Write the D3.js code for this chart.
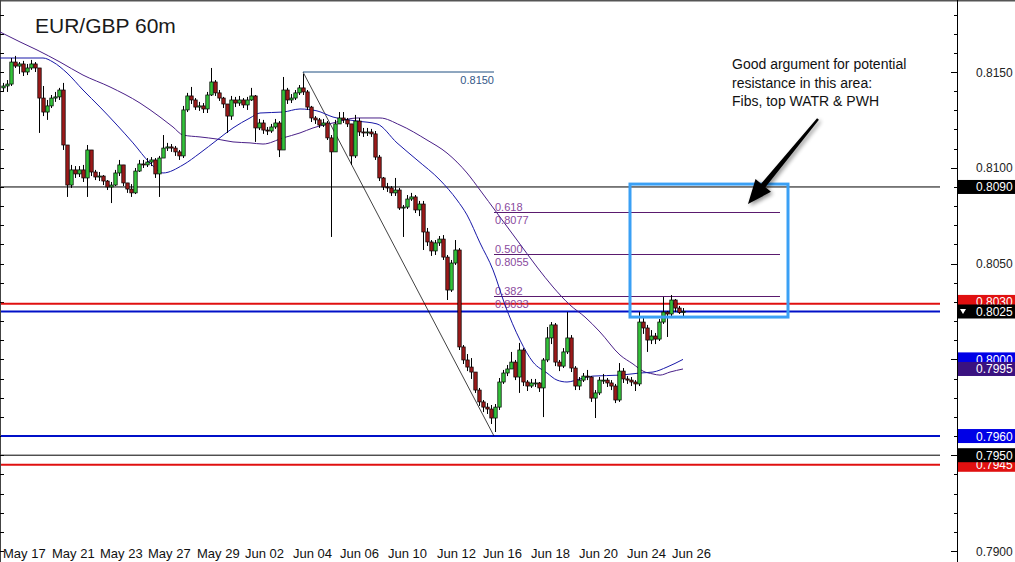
<!DOCTYPE html>
<html><head><meta charset="utf-8">
<script src="https://cdn.jsdelivr.net/npm/d3@7"></script>
<style>
body{margin:0;background:#fff;}
svg{display:block;}
text{font-family:"Liberation Sans",Arial,Helvetica,sans-serif;}
</style>
</head><body>
<svg id="c" width="1015" height="562"></svg>
<script>
// ---------- DATA ----------
const title = "EUR/GBP 60m";
const firstOpen = 0.81417;
// 4-hour grouped candles (index i centred at hour 4*i)
const closes = [0.81427,0.81437,0.81552,0.81531,0.81542,0.81500,0.81521,0.81542,0.81521,0.81364,
0.81291,0.81323,0.81364,0.81370,0.81406,0.81119,0.80910,0.80989,0.80968,0.80989,
0.80947,0.81093,0.80978,0.80952,0.80957,0.80931,0.80900,0.80910,0.80973,0.81015,
0.80921,0.80889,0.80869,0.80983,0.81020,0.81015,0.81030,0.81041,0.80968,0.81051,
0.81103,0.81109,0.81103,0.81083,0.81062,0.81302,0.81375,0.81354,0.81317,0.81323,
0.81307,0.81380,0.81448,0.81391,0.81364,0.81333,0.81270,0.81354,0.81338,0.81354,
0.81328,0.81354,0.81375,0.81208,0.81234,0.81197,0.81192,0.81213,0.81234,0.81093,
0.81406,0.81354,0.81364,0.81391,0.81417,0.81396,0.81317,0.81260,0.81250,0.81223,
0.81234,0.81156,0.81083,0.81229,0.81260,0.81250,0.81229,0.81062,0.81244,0.81187,
0.81182,0.81187,0.81177,0.81056,0.80947,0.80900,0.80895,0.80869,0.80884,0.80790,
0.80795,0.80837,0.80848,0.80780,0.80811,0.80665,0.80613,0.80566,0.80608,0.80628,
0.80534,0.80362,0.80503,0.80571,0.80065,0.79997,0.79960,0.79934,0.79840,0.79778,
0.79751,0.79741,0.79694,0.79751,0.79882,0.79929,0.79950,0.79986,0.79908,0.80049,
0.79882,0.79861,0.79877,0.79877,0.79851,0.79997,0.80112,0.80180,0.79986,0.79965,
0.80039,0.80112,0.79955,0.79861,0.79892,0.79913,0.79908,0.79798,0.79825,0.79892,
0.79892,0.79877,0.79861,0.79788,0.79939,0.79898,0.79892,0.79882,0.79872,0.80195,
0.80164,0.80101,0.80122,0.80106,0.80195,0.80247,0.80237,0.80310,0.80268,0.80245,
0.80250];
const highs = [0.81443,0.81458,0.81573,0.81584,0.81552,0.81558,0.81542,0.81563,0.81552,0.81521,
0.81427,0.81354,0.81380,0.81396,0.81417,0.81443,0.81119,0.81015,0.81009,0.81009,
0.81015,0.81119,0.81093,0.80989,0.80978,0.80962,0.80936,0.80926,0.80989,0.81041,
0.81015,0.80921,0.80915,0.80999,0.81041,0.81041,0.81051,0.81056,0.81051,0.81062,
0.81171,0.81130,0.81124,0.81114,0.81093,0.81323,0.81391,0.81422,0.81364,0.81344,
0.81338,0.81396,0.81521,0.81458,0.81406,0.81370,0.81333,0.81375,0.81370,0.81375,
0.81364,0.81370,0.81417,0.81380,0.81255,0.81250,0.81213,0.81229,0.81255,0.81244,
0.81474,0.81417,0.81385,0.81406,0.81432,0.81490,0.81406,0.81323,0.81270,0.81260,
0.81255,0.81244,0.81171,0.81250,0.81291,0.81291,0.81260,0.81218,0.81276,0.81260,
0.81208,0.81208,0.81203,0.81192,0.81067,0.80952,0.80921,0.80905,0.80947,0.80895,
0.80806,0.80858,0.80869,0.80858,0.80827,0.80827,0.80686,0.80623,0.80623,0.80644,
0.80649,0.80545,0.80519,0.80623,0.80581,0.80075,0.80028,0.80007,0.79924,0.79851,
0.79788,0.79772,0.79762,0.79767,0.79903,0.79945,0.79971,0.80039,0.79997,0.80086,
0.80059,0.79892,0.79898,0.79898,0.79882,0.80007,0.80169,0.80195,0.80190,0.79997,
0.80059,0.80247,0.80127,0.79965,0.79908,0.79929,0.79945,0.79913,0.79840,0.79908,
0.79924,0.79903,0.79892,0.79872,0.79981,0.79955,0.79913,0.79908,0.79892,0.80247,
0.80216,0.80180,0.80153,0.80138,0.80211,0.80326,0.80253,0.80336,0.80315,0.80279,
0.80268];
const lows = [0.81396,0.81396,0.81427,0.81521,0.81490,0.81479,0.81484,0.81511,0.81500,0.81182,
0.81270,0.81250,0.81312,0.81344,0.81354,0.81093,0.80848,0.80895,0.80947,0.80952,
0.80926,0.80848,0.80957,0.80936,0.80931,0.80910,0.80884,0.80816,0.80905,0.80957,
0.80905,0.80869,0.80848,0.80863,0.80978,0.80999,0.81004,0.81009,0.80947,0.80848,
0.81051,0.81088,0.81083,0.81062,0.81041,0.81051,0.81291,0.81333,0.81302,0.81297,
0.81286,0.81286,0.81375,0.81375,0.81349,0.81312,0.81182,0.81250,0.81317,0.81323,
0.81312,0.81302,0.81349,0.81135,0.81197,0.81177,0.81171,0.81182,0.81203,0.81056,
0.81093,0.81333,0.81338,0.81354,0.81380,0.81380,0.81302,0.81239,0.81229,0.81208,
0.81213,0.81145,0.80639,0.81083,0.81229,0.81234,0.81213,0.81015,0.81051,0.81166,
0.81161,0.81166,0.81161,0.81041,0.80931,0.80884,0.80874,0.80853,0.80853,0.80780,
0.80639,0.80785,0.80827,0.80764,0.80748,0.80571,0.80592,0.80540,0.80545,0.80592,
0.80519,0.80310,0.80352,0.80493,0.80049,0.79976,0.79939,0.79898,0.79825,0.79757,
0.79725,0.79715,0.79663,0.79621,0.79736,0.79872,0.79913,0.79955,0.79892,0.79825,
0.79861,0.79835,0.79851,0.79856,0.79830,0.79699,0.79986,0.80080,0.79965,0.79939,
0.79955,0.80028,0.79934,0.79840,0.79840,0.79882,0.79892,0.79778,0.79694,0.79814,
0.79872,0.79856,0.79840,0.79772,0.79778,0.79877,0.79872,0.79861,0.79835,0.79861,
0.80133,0.80039,0.80080,0.80080,0.80096,0.80185,0.80117,0.80226,0.80247,0.80237,
0.80226];

// moving averages: [hour, price]
const fastMA = [[-3,0.81573],[17,0.81573],[40,0.81573],[50,0.81552],[64,0.81495],[80,0.81406],
[97,0.81317],[114,0.81223],[130,0.81130],[147,0.81025],[160,0.80973],[180,0.81015],[197,0.81077],
[214,0.81145],[230,0.81208],[247,0.81260],[257,0.81286],[280,0.81291],[297,0.81307],[314,0.81297],
[330,0.81265],[354,0.81244],[374,0.81229],[394,0.81130],[414,0.81041],[437,0.80936],[454,0.80832],
[464,0.80754],[477,0.80608],[490,0.80467],[502,0.80284],[517,0.80101],[530,0.79986],[544,0.79929],
[554,0.79892],[564,0.79882],[577,0.79898],[590,0.79913],[617,0.79918],[637,0.79929],[650,0.79934],
[664,0.79960],[680,0.80000]];
const slowMA = [[-3,0.81709],[17,0.81657],[34,0.81615],[57,0.81552],[80,0.81484],[107,0.81422],
[137,0.81338],[157,0.81265],[170,0.81213],[180,0.81171],[197,0.81161],[214,0.81150],[230,0.81135],
[247,0.81130],[260,0.81124],[280,0.81156],[297,0.81182],[310,0.81208],[330,0.81234],[354,0.81260],
[377,0.81260],[397,0.81223],[424,0.81145],[444,0.81077],[464,0.80973],[477,0.80884],[494,0.80764],
[514,0.80623],[534,0.80482],[550,0.80378],[567,0.80284],[582,0.80221],[597,0.80143],[617,0.80023],
[630,0.79976],[640,0.79939],[650,0.79924],[657,0.79918],[667,0.79934],[680,0.79950]];

const xTickLabels = ["May 17","May 21","May 23","May 27","May 29","Jun 02","Jun 04","Jun 06","Jun 10","Jun 12","Jun 16","Jun 18","Jun 20","Jun 24","Jun 26"];
const xTickHours = [0,49,97,145,194,242,290,337,385,434,480,528,576,624,669];
const yTickLabels = [0.8150,0.8100,0.8050,0.8000,0.7950,0.7900];

const fibRatios = ["0.618","0.500","0.382"];
const fibPrices = [0.8077,0.8055,0.8033];
const fibHigh = 0.8150, fibLow = 0.7960;
const fibStartHour = 300, fibEndHour = 491, fibLineEndHour = 777;

const levelValues = [0.8090, 0.8029, 0.8025, 0.7960, 0.7950, 0.7945];
const levelColors = ["#000000","#e01010","#0010c8","#0010c8","#000000","#e01010"];
const levelWidths = [1, 2, 2, 2, 1, 2];

// right-axis price tags (drawn in this order)
const tagValues = [0.8090, 0.8030, 0.8025, 0.8000, 0.7995, 0.7960, 0.7945, 0.7950];
const tagTexts  = ["0.8090","0.8030","0.8025","0.8000","0.7995","0.7960","0.7945","0.7950"];
const tagColors = ["#000000","#e01010","#000000","#0000e6","#3a1280","#0000e6","#e01010","#000000"];

const boxHours = [627, 785];
const boxPrices = [0.80915, 0.80221];
const noteLines = ["Good argument for potential","resistance in this area:","Fibs, top WATR & PWH"];

// ---------- CHART ----------
const svg = d3.select("#c");
const x = d3.scaleLinear().domain([0, 680]).range([3, 683]);
const y = d3.scaleLinear().domain([0.7900, 0.8150]).range([551, 72]);
const axisX = 957, lineEnd = 940;

const defs = svg.append("defs");
const f = defs.append("filter").attr("id","sh").attr("x","-50%").attr("y","-50%").attr("width","200%").attr("height","200%");
f.append("feGaussianBlur").attr("in","SourceAlpha").attr("stdDeviation",2);
f.append("feOffset").attr("dx",2).attr("dy",2).attr("result","b");
f.append("feComponentTransfer").append("feFuncA").attr("type","linear").attr("slope",0.45);
const fm = f.append("feMerge"); fm.append("feMergeNode"); fm.append("feMergeNode").attr("in","SourceGraphic");

// frame
svg.append("line").attr("x1",0).attr("x2",1015).attr("y1",0.5).attr("y2",0.5).attr("stroke","#555").attr("stroke-width",2);
svg.append("line").attr("x1",0.5).attr("x2",0.5).attr("y1",0).attr("y2",562).attr("stroke","#444");
svg.append("line").attr("x1",axisX+0.5).attr("x2",axisX+0.5).attr("y1",0).attr("y2",562).attr("stroke","#000");

// ticks every 0.001
const minor = d3.range(0, 31).map(k => +(0.7880 + k*0.001).toFixed(4));
minor.forEach(v => {
  const yy = Math.round(y(v)) + 0.5;
  const major = Math.abs(Math.round(v*10000) % 50) === 0;
  svg.append("line").attr("x1",axisX - (major?6:3)).attr("x2",axisX).attr("y1",yy).attr("y2",yy).attr("stroke","#000");
  svg.append("line").attr("x1",0).attr("x2",4).attr("y1",yy).attr("y2",yy).attr("stroke","#000");
});
svg.append("g").selectAll("text").data(yTickLabels).join("text")
  .attr("x",976).attr("y",d=>y(d)+4.5).attr("font-size",12).attr("fill","#222")
  .text(d=>d.toFixed(4));

// x labels
svg.append("g").selectAll("text").data(xTickLabels).join("text")
  .attr("x",(d,i)=>x(xTickHours[i])).attr("y",558).attr("font-size",13).attr("fill","#111")
  .text(d=>d);

// horizontal levels
svg.append("g").selectAll("line").data(levelValues).join("line")
  .attr("x1",1).attr("x2",lineEnd).attr("y1",d=>y(d)).attr("y2",d=>y(d))
  .attr("stroke",(d,i)=>levelColors[i]).attr("stroke-width",(d,i)=>levelWidths[i]);

// fib tool
svg.append("line").attr("x1",x(fibStartHour)).attr("y1",y(fibHigh)).attr("x2",x(fibEndHour)).attr("y2",y(fibLow))
  .attr("stroke","#111").attr("stroke-width",0.8);
svg.append("line").attr("x1",x(fibStartHour)).attr("y1",y(fibHigh)).attr("x2",x(fibEndHour)).attr("y2",y(fibHigh))
  .attr("stroke","#1f4f80").attr("stroke-width",1);
svg.append("text").attr("x",x(fibEndHour)).attr("y",y(fibHigh)+12).attr("text-anchor","end")
  .attr("font-size",11).attr("fill","#355888").text(fibHigh.toFixed(4));
const fibG = svg.append("g");
fibPrices.forEach((p,i) => {
  const yy = Math.round(y(p)) + 0.5;
  fibG.append("line").attr("x1",x(fibEndHour)).attr("x2",x(fibLineEndHour)).attr("y1",yy).attr("y2",yy)
    .attr("stroke","#5a1a6e").attr("stroke-width",1);
  fibG.append("text").attr("x",x(fibEndHour)+1).attr("y",yy-2).attr("font-size",11).attr("fill","#8a4a9e").text(fibRatios[i]);
  fibG.append("text").attr("x",x(fibEndHour)+1).attr("y",yy+11).attr("font-size",11).attr("fill","#8a4a9e").text(p.toFixed(4));
});

// moving averages
const maLine = d3.line().x(d=>x(d[0])).y(d=>y(d[1])).curve(d3.curveMonotoneX);
svg.append("path").attr("d",maLine(slowMA)).attr("fill","none").attr("stroke","#4a2088").attr("stroke-width",1);
svg.append("path").attr("d",maLine(fastMA)).attr("fill","none").attr("stroke","#1818a8").attr("stroke-width",1);

// candles
const candles = closes.map((c,i)=>{
  const o = i ? closes[i-1] : firstOpen;
  return {i, o, c, h: Math.max(highs[i], o, c), l: Math.min(lows[i], o, c)};
});
const cg = svg.append("g");
cg.selectAll("line").data(candles).join("line")
  .attr("x1",d=>x(d.i*4)+0.5).attr("x2",d=>x(d.i*4)+0.5)
  .attr("y1",d=>y(d.h)).attr("y2",d=>y(d.l)).attr("stroke","#000").attr("stroke-width",1);
cg.selectAll("rect").data(candles).join("rect")
  .attr("x",d=>x(d.i*4)-1.2).attr("width",3.4)
  .attr("y",d=>y(Math.max(d.o,d.c)))
  .attr("height",d=>Math.max(1, Math.abs(y(d.o)-y(d.c))))
  .attr("fill",d=>d.c>=d.o?"#33c23a":"#9c1a1a")
  .attr("stroke","#000").attr("stroke-width",0.7);

// highlight box
svg.append("rect").attr("x",x(boxHours[0])).attr("y",y(boxPrices[0]))
  .attr("width",x(boxHours[1])-x(boxHours[0])).attr("height",y(boxPrices[1])-y(boxPrices[0]))
  .attr("fill","none").attr("stroke","#3aa0f5").attr("stroke-width",3);

// annotation
svg.append("g").selectAll("text").data(noteLines).join("text")
  .attr("x",732).attr("y",(d,i)=>69+i*18.5).attr("font-size",14).attr("fill","#111").text(d=>d);
// arrow
const S=[818,119], T=[748,204];
const dx=T[0]-S[0], dy=T[1]-S[1], L=Math.hypot(dx,dy), ux=dx/L, uy=dy/L, px=-uy, py=ux;
const B=[T[0]-24*ux, T[1]-24*uy];
const pts=[[S[0]+1.2*px,S[1]+1.2*py],[B[0]+2.8*px,B[1]+2.8*py],[B[0]+10*px,B[1]+10*py],T,
  [B[0]-10*px,B[1]-10*py],[B[0]-2.8*px,B[1]-2.8*py],[S[0]-1.2*px,S[1]-1.2*py]];
svg.append("path").attr("d","M"+pts.map(p=>p.join(",")).join("L")+"Z").attr("fill","#000").attr("filter","url(#sh)");

// title
svg.append("text").attr("x",35).attr("y",33).attr("font-size",21).attr("fill","#1a1a1a").text(title);

// price tags
const tg = svg.append("g");
tagValues.forEach((v,i)=>{
  const yy = y(v);
  tg.append("rect").attr("x",958).attr("y",yy-7).attr("width",57).attr("height",14).attr("fill",tagColors[i]);
  tg.append("text").attr("x",976).attr("y",yy+4.5).attr("font-size",12).attr("fill","#fff").text(tagTexts[i]);
  if (tagTexts[i]==="0.8025") {
    tg.append("path").attr("d",`M960,${yy-2.5}L966,${yy-2.5}L963,${yy+2.5}Z`).attr("fill","#fff");
  }
});
</script>
</body></html>
